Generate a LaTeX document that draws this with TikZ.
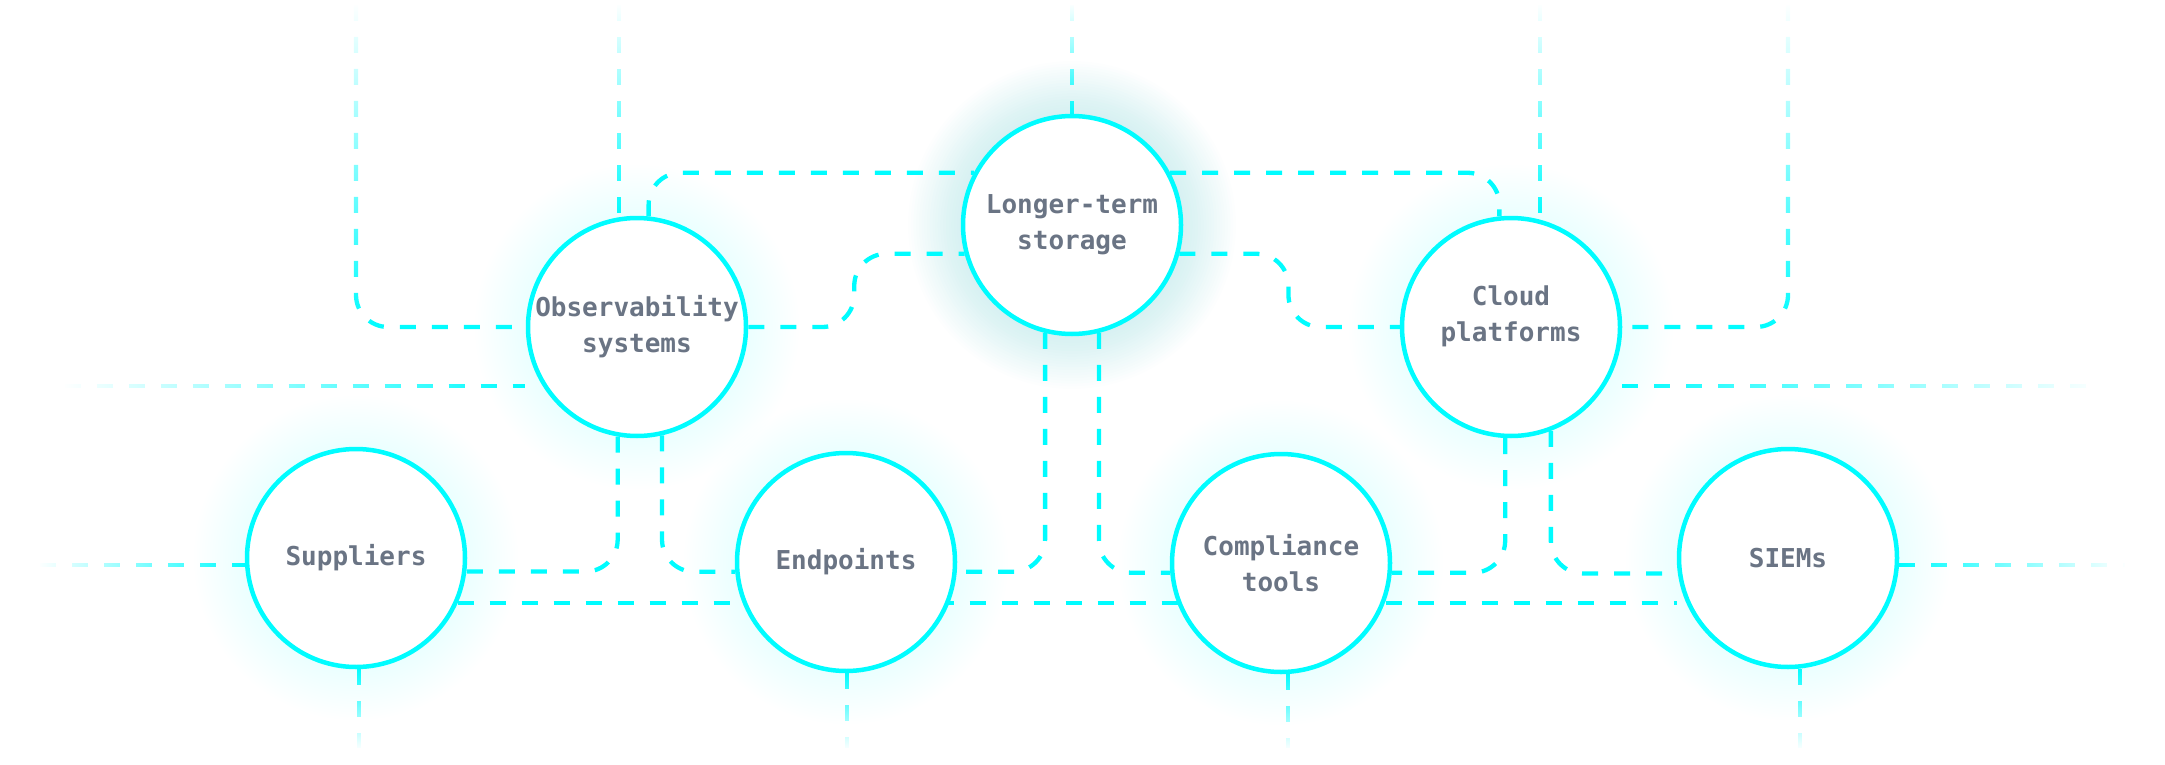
\documentclass[tikz,border=0pt]{standalone}
\usepackage{fontspec}
\setmonofont{DejaVu Sans Mono}
\usepackage{tikz}
\usetikzlibrary{fadings}
\definecolor{glowcyan}{RGB}{0,252,255}
\definecolor{haloteal}{RGB}{70,190,195}
\definecolor{labelgray}{RGB}{106,116,132}
\pgfdeclarelayer{glowlayer}
\pgfdeclarelayer{linklayer}
\pgfsetlayers{glowlayer,linklayer,main}

\begin{document}
\begin{tikzpicture}[x=1pt,y=-1pt,
    hub/.style={circle,draw=glowcyan,line width=4.5pt,fill=white,
      minimum size=218pt,inner sep=0pt,align=center,text=labelgray,
      font=\fontsize{26}{36}\selectfont\ttfamily\bfseries},
    link/.style={draw=glowcyan,line width=4.3pt,
      dash pattern=on 16pt off 16pt,rounded corners=32pt}]
\useasboundingbox (0,0) rectangle (2165,765);

% the hubs
\node[hub] (lts) at (1072,225) {Longer-term\\storage};
\node[hub] (obs) at (637,327) {Observability\\systems};
\node[hub,text depth=26pt] (cld) at (1511,327) {Cloud\\platforms};
\node[hub] (sup) at (356,558) {Suppliers};
\node[hub] (ept) at (846,562) {Endpoints};
\node[hub] (cmp) at (1281,563) {Compliance\\tools};
\node[hub] (siem) at (1788,558) {SIEMs};

% loose ends at the borders
\coordinate (topA) at (356,5);
\coordinate (topB) at (619,5);
\coordinate (topC) at (1072,5);
\coordinate (topD) at (1540,5);
\coordinate (topE) at (1788,5);
\coordinate (edgeL1) at (65,386);
\coordinate (edgeR1) at (2100,386);
\coordinate (edgeL2) at (40,565);
\coordinate (edgeR2) at (2125,565);
\coordinate (botA) at (359,748);
\coordinate (botB) at (847,748);
\coordinate (botC) at (1288,748);
\coordinate (botD) at (1800,748);

% halo round each hub
\begin{pgfonlayer}{glowlayer}
  \foreach \n in {obs,cld,sup,ept,cmp,siem}
    \foreach \k in {1,...,20}
      \fill[glowcyan,opacity=0.005] (\n) circle[radius=110pt+2.6pt*\k];
  \foreach \k in {1,...,20}
    \fill[haloteal,opacity=0.013] (lts) circle[radius=110pt+2.7pt*\k];
\end{pgfonlayer}

% (the extra moves only widen each faded path, so the fading fits)
\begin{pgfonlayer}{linklayer}
  % from the top
  \draw[link,path fading=north] (topA) |- (obs.west);
  \draw[link,path fading=north] (topB) -- (topB |- obs.north) ++(-40,0) ++(80,0);
  \draw[link,path fading=north] (topC) -- (lts.north) ++(-40,0) ++(80,0);
  \draw[link,path fading=north] (topD) -- (topD |- cld.north) ++(-40,0) ++(80,0);
  \draw[link,path fading=north] (topE) |- (cld.east);
  % upper row
  \draw[link] (obs.84) |- (lts.152);
  \draw[link] (lts.28) -| (cld.96);
  \draw[link] (obs.east) -- ++(106,0) |- (lts.195);
  \draw[link] (lts.-15) -- ++(109,0) |- (cld.west);
  \draw[link,path fading=west] (edgeL1) -- (edgeL1 -| obs.west) ++(0,-40) ++(0,80);
  \draw[link,path fading=east] (cld.east |- edgeR1) -- (edgeR1) ++(0,-40) ++(0,80);
  % down to the lower row
  \draw[link] (obs.260) |- (sup.-7);
  \draw[link] (obs.283) |- (ept.185);
  \draw[link] (lts.256) |- (ept.-5);
  \draw[link] (lts.284) |- (cmp.185);
  \draw[link] (cld.267) |- (cmp.-5);
  \draw[link] (cld.-69) |- (siem.188);
  \draw[link] (sup.-24) -- (sup.-24 -| siem.west);
  % lower row, out to the borders
  \draw[link,path fading=west] (edgeL2) -- (edgeL2 -| sup.west) ++(0,-40) ++(0,80);
  \draw[link,path fading=east] (siem.east |- edgeR2) -- (edgeR2) ++(0,-40) ++(0,80);
  \draw[link,path fading=south] (botA |- sup.south) -- (botA) ++(-40,0) ++(80,0);
  \draw[link,path fading=south] (botB |- ept.south) -- (botB) ++(-40,0) ++(80,0);
  \draw[link,path fading=south] (botC |- cmp.south) -- (botC) ++(-40,0) ++(80,0);
  \draw[link,path fading=south] (botD |- siem.south) -- (botD) ++(-40,0) ++(80,0);
\end{pgfonlayer}
\end{tikzpicture}
\end{document}
